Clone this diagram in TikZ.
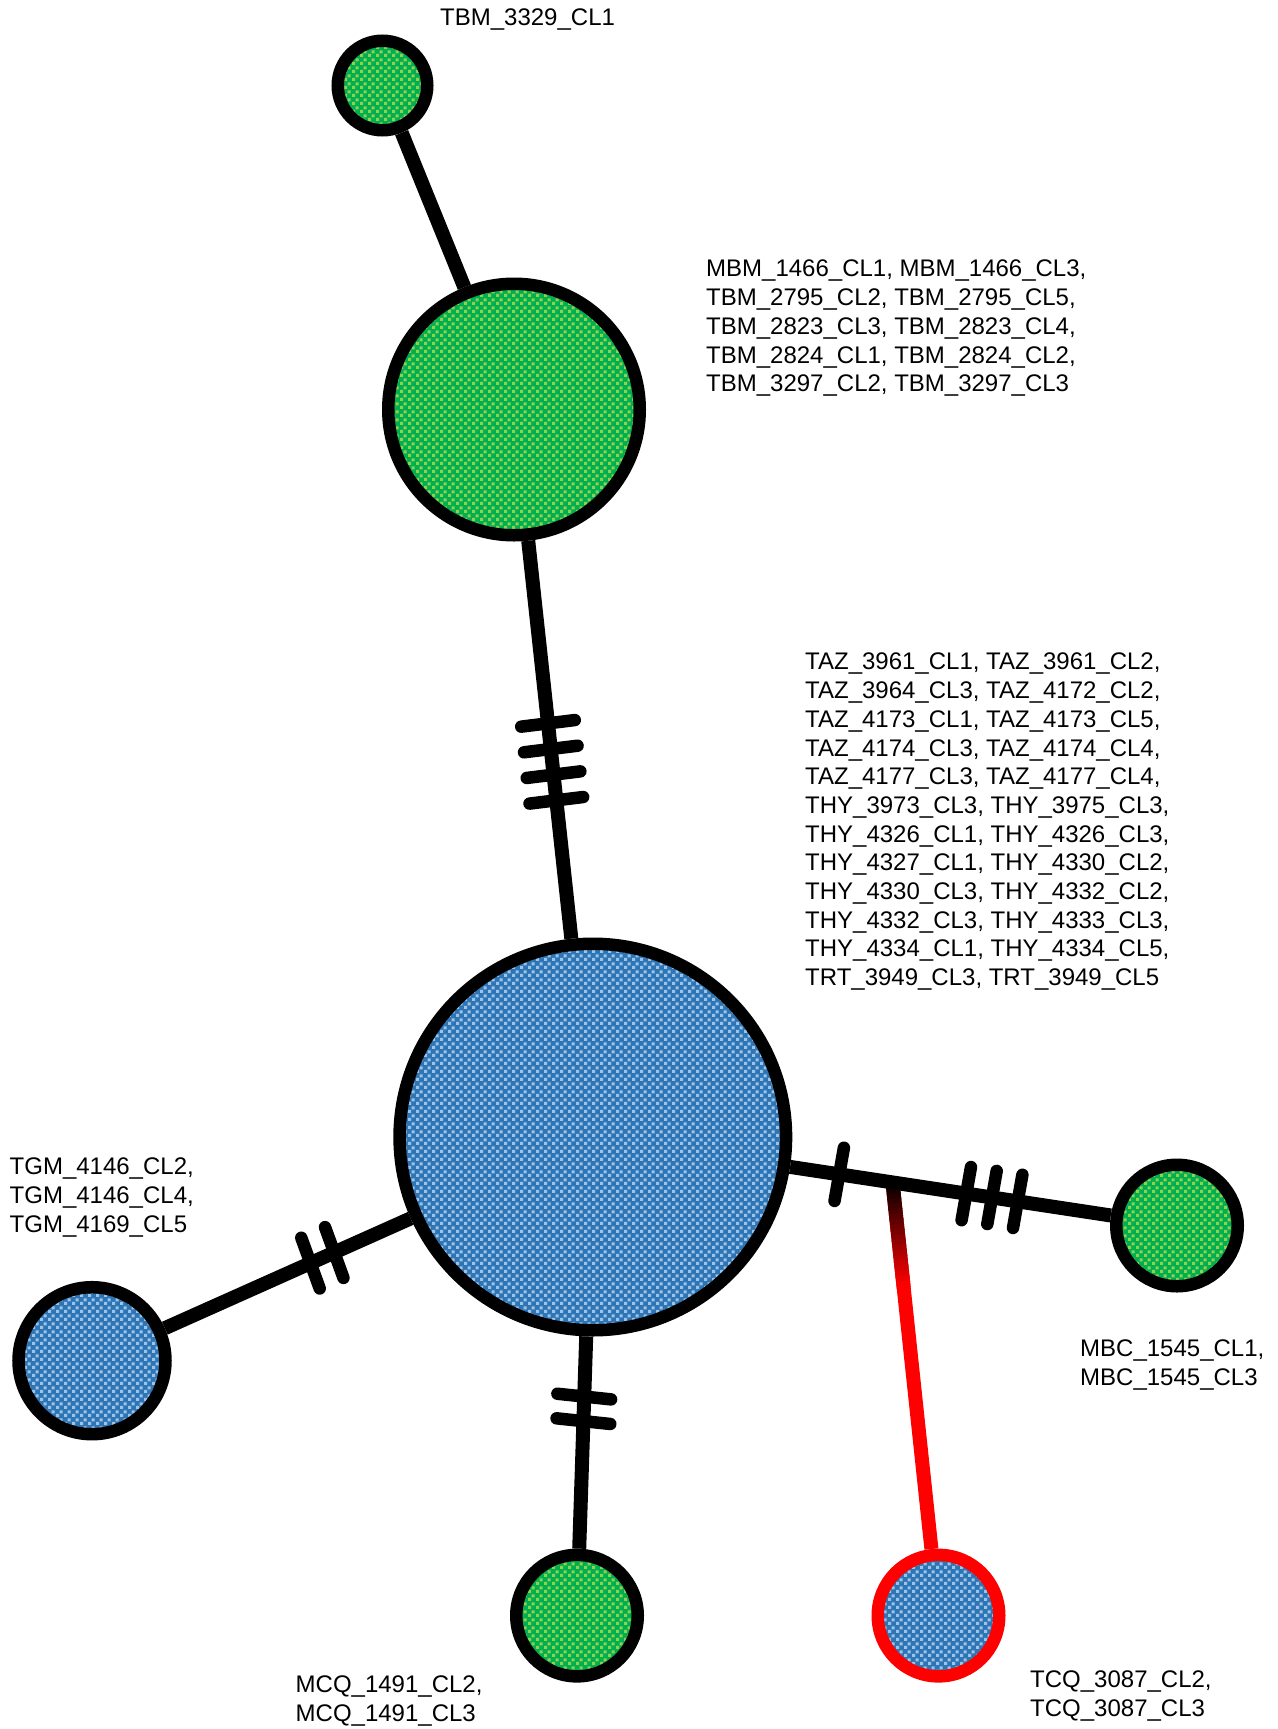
\documentclass[tikz,border=0pt]{standalone}
\usepackage{fontspec}
\setmainfont{Liberation Sans}
\usetikzlibrary{calc,patterns.meta}

\definecolor{gbase}{RGB}{0,176,80}
\definecolor{glight}{RGB}{146,208,80}
\definecolor{bbase}{RGB}{46,117,182}
\definecolor{blight}{RGB}{157,195,230}

% small staggered squares used as texture inside the haplotype circles
\tikzdeclarepattern{
  name=confetti,
  type=uncolored,
  bounding box={(0pt,0pt) and (8pt,8pt)},
  tile size={(8pt,8pt)},
  code={
    \pgfpathrectangle{\pgfpoint{0pt}{0pt}}{\pgfpoint{3.5pt}{3.5pt}}
    \pgfpathrectangle{\pgfpoint{4pt}{4pt}}{\pgfpoint{3.5pt}{3.5pt}}
    \pgfusepath{fill}
  }
}

\pgfdeclarelayer{bg}
\pgfsetlayers{bg,main}

\begin{document}
\begin{tikzpicture}[x=1pt,y=-1pt,
  hap/.style={circle, draw=black, line width=12.5pt, inner sep=0pt},
  greenfill/.style={preaction={fill=gbase}, pattern=confetti, pattern color=glight},
  bluefill/.style={preaction={fill=bbase}, pattern=confetti, pattern color=blight},
  edge/.style={draw=black, line width=14pt},
  rededge/.style={draw=red, line width=14pt},
  tickmark/.style={draw=black, line width=12.5pt, line cap=round},
  lbl/.style={anchor=north west, inner sep=0pt, align=left,
              font=\fontsize{24pt}{28.7pt}\selectfont}]
\useasboundingbox (0,0) rectangle (1277,1729);

% haplotypes
\node[hap,greenfill,minimum size=89.5pt]  (n3329) at (382.5,85.5) {};
\node[hap,greenfill,minimum size=251.5pt] (nmbm)  at (514,409.5) {};
\node[hap,bluefill,minimum size=386.5pt]  (ntaz)  at (592.8,1137) {};
\node[hap,bluefill,minimum size=147pt]    (ntgm)  at (92,1360.7) {};
\node[hap,greenfill,minimum size=121.5pt] (nmcq)  at (577,1615.6) {};
\node[hap,bluefill,draw=red,minimum size=121.5pt] (ntcq) at (938.5,1615.6) {};
\node[hap,greenfill,minimum size=121.5pt] (nmbc)  at (1177,1225.5) {};

\begin{pgfonlayer}{bg}
  % branch towards TCQ, fading from black into red
  \coordinate (j) at ($(ntaz.center)!0.513!(nmbc.center)$);
  \draw[rededge] (j) -- (ntcq);
  \foreach \i in {0,...,19}{
    \pgfmathsetmacro\ta{\i*0.012}
    \pgfmathsetmacro\tb{\i*0.012+0.016}
    \pgfmathtruncatemacro\pc{\i*5+3}
    \draw[line width=14pt, draw=red!\pc!black]
      ($(j)!\ta!(ntcq.center)$) -- ($(j)!\tb!(ntcq.center)$);
  }

  % network edges
  \draw[edge] (n3329) -- (nmbm);
  \draw[edge] (nmbm) -- (ntaz);
  \draw[edge] (ntaz) -- (ntgm);
  \draw[edge] (ntaz) -- (nmcq);
  \draw[edge] (ntaz) -- (nmbc);

  % mutation ticks
  \coordinate (c2) at ($(nmbm.center)!0.4843!(ntaz.center)$);
  \foreach \d in {-38.7pt,-12.9pt,12.9pt,38.7pt}
    \draw[tickmark, shift={($(c2)!\d!(ntaz.center)$)}] (-7:27) -- (173:27);

  \coordinate (c3) at ($(ntaz.center)!0.54!(ntgm.center)$);
  \foreach \d in {-13pt,13pt}
    \draw[tickmark, shift={($(c3)!\d!(ntgm.center)$)}] (70:27) -- (250:27);

  \coordinate (c4) at ($(ntaz.center)!0.568!(nmcq.center)$);
  \foreach \d in {-12.3pt,12.3pt}
    \draw[tickmark, shift={($(c4)!\d!(nmcq.center)$)}] (6:27) -- (186:27);

  \coordinate (c5) at ($(ntaz.center)!0.4218!(nmbc.center)$);
  \draw[tickmark, shift={(c5)}] (100:27) -- (280:27);

  \coordinate (c6) at ($(ntaz.center)!0.6833!(nmbc.center)$);
  \foreach \d in {-26pt,0pt,26pt}
    \draw[tickmark, shift={($(c6)!\d!(nmbc.center)$)}] (100:27) -- (280:27);
\end{pgfonlayer}

% sample labels
\node[lbl] (l3329) at (440,9) {TBM\_3329\_CL1};
\node[lbl] (lmbm) at (706,260) {MBM\_1466\_CL1, MBM\_1466\_CL3,\\
TBM\_2795\_CL2, TBM\_2795\_CL5,\\
TBM\_2823\_CL3, TBM\_2823\_CL4,\\
TBM\_2824\_CL1, TBM\_2824\_CL2,\\
TBM\_3297\_CL2, TBM\_3297\_CL3};
\node[lbl] (ltaz) at (805,653) {TAZ\_3961\_CL1, TAZ\_3961\_CL2,\\
TAZ\_3964\_CL3, TAZ\_4172\_CL2,\\
TAZ\_4173\_CL1, TAZ\_4173\_CL5,\\
TAZ\_4174\_CL3, TAZ\_4174\_CL4,\\
TAZ\_4177\_CL3, TAZ\_4177\_CL4,\\
THY\_3973\_CL3, THY\_3975\_CL3,\\
THY\_4326\_CL1, THY\_4326\_CL3,\\
THY\_4327\_CL1, THY\_4330\_CL2,\\
THY\_4330\_CL3, THY\_4332\_CL2,\\
THY\_4332\_CL3, THY\_4333\_CL3,\\
THY\_4334\_CL1, THY\_4334\_CL5,\\
TRT\_3949\_CL3, TRT\_3949\_CL5};
\node[lbl] (ltgm) at (9.5,1158) {TGM\_4146\_CL2,\\
TGM\_4146\_CL4,\\
TGM\_4169\_CL5};
\node[lbl] (lmbc) at (1080,1340) {MBC\_1545\_CL1,\\
MBC\_1545\_CL3};
\node[lbl] (lmcq) at (295.5,1676) {MCQ\_1491\_CL2,\\
MCQ\_1491\_CL3};
\node[lbl] (ltcq) at (1030,1671) {TCQ\_3087\_CL2,\\
TCQ\_3087\_CL3};
\end{tikzpicture}
\end{document}
